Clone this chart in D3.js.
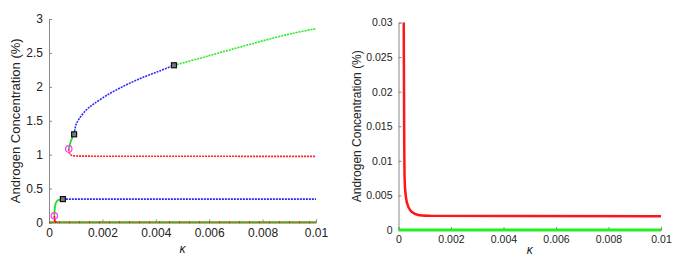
<!DOCTYPE html>
<html>
<head>
<meta charset="utf-8">
<script src="https://cdn.jsdelivr.net/npm/d3@7"></script>
<style>
  body { margin: 0; background: #fff; }
  svg text { font-family: "Liberation Sans", Arial, sans-serif; fill: #222; }
  .axis path, .axis line { stroke: #888; }
</style>
</head>
<body>
<div id="chart"></div>
<script>
// ---- data (kappa, androgen %) ----
const xTicks = [0, 0.002, 0.004, 0.006, 0.008, 0.01];
const leftYTicks = [0, 0.5, 1, 1.5, 2, 2.5, 3];
const rightYTicks = [0, 0.005, 0.01, 0.015, 0.02, 0.025, 0.03];

const baseline = [[0, 0.003], [0.01, 0.003]];
const lowRed = [[0.0002, 0.099], [0.00021, 0.05], [0.00023, 0.012], [0.00028, 0.004]];
const lowGreen = [[0.0002, 0.099], [0.00021, 0.18], [0.00023, 0.25], [0.00027, 0.3], [0.00035, 0.33], [0.00052, 0.345]];
const lowBlue = [[0.00052, 0.345], [0.01, 0.345]];
const upRed = [[0.00074, 1.085], [0.00076, 1.03], [0.0008, 1.0], [0.0009, 0.985], [0.0012, 0.978], [0.01, 0.975]];
const upGreen = [[0.00074, 1.085], [0.00078, 1.15], [0.00085, 1.23], [0.00094, 1.3]];
const upBlue = [[0.00094, 1.3], [0.00097, 1.37], [0.00102, 1.45], [0.00115, 1.54], [0.0014, 1.66], [0.00165, 1.74],
                [0.00227, 1.9], [0.0029, 2.03], [0.00352, 2.14], [0.00415, 2.235], [0.00468, 2.318]];
const topGreen = [[0.00468, 2.318], [0.00564, 2.42], [0.00664, 2.53], [0.00789, 2.666], [0.00914, 2.79], [0.01, 2.857]];
const circles = [[0.0002, 0.099], [0.00074, 1.085]];
const squares = [[0.00052, 0.345], [0.00094, 1.3], [0.00468, 2.318]];

const rightRed = [[0.0002, 0.03], [0.00021, 0.02], [0.00022, 0.012], [0.00023, 0.0077], [0.00028, 0.0048],
                  [0.00037, 0.0034], [0.0005, 0.00265], [0.00075, 0.00217], [0.0012, 0.00205], [0.01, 0.002]];
const rightGreen = [[0, 0], [0.01, 0]];

const svg = d3.select("#chart").append("svg")
    .attr("width", 676)
    .attr("height", 262);

function panel(o) {
    const x = d3.scaleLinear().domain([0, 0.01]).range(o.xr);
    const y = d3.scaleLinear().domain(o.yd).range(o.yr);
    const g = svg.append("g");

    g.append("g").attr("class", "axis")
        .attr("transform", `translate(0,${o.yr[0]})`)
        .call(d3.axisBottom(x).tickValues(xTicks).tickSize(-3).tickPadding(6).tickFormat(d => d === 0 ? "0" : d3.format("")(d)))
        .call(a => a.selectAll("text").style("font-size", o.fs + "px").attr("fill", "#222"));

    g.append("g").attr("class", "axis")
        .attr("transform", `translate(${o.xr[0]},0)`)
        .call(d3.axisLeft(y).tickValues(o.yTicks).tickSize(-3).tickPadding(6).tickFormat(d => d === 0 ? "0" : d3.format("")(d)))
        .call(a => a.selectAll("text").style("font-size", o.fs + "px").attr("fill", "#222"));

    g.selectAll(".axis path").attr("stroke", "#888");
    g.selectAll(".axis .tick line").attr("stroke", "#666");

    // x label
    g.append("text")
        .attr("x", (o.xr[0] + o.xr[1]) / 2)
        .attr("y", o.labY)
        .attr("text-anchor", "middle")
        .style("font-style", "italic")
        .style("font-size", "12px")
        .text("\u03BA");

    // y label
    g.append("text")
        .attr("transform", `translate(${o.ylX},${(o.yr[0] + o.yr[1]) / 2}) rotate(-90)`)
        .attr("text-anchor", "middle")
        .style("font-size", o.yfs + "px")
        .text("Androgen Concentration (%)");

    const line = d3.line().x(d => x(d[0])).y(d => y(d[1])).curve(d3.curveMonotoneY);
    const lineX = d3.line().x(d => x(d[0])).y(d => y(d[1])).curve(d3.curveMonotoneX);
    const lineC = d3.line().x(d => x(d[0])).y(d => y(d[1])).curve(d3.curveCatmullRom);
    return { g, x, y, line, lineX, lineC };
}

// ---- left panel ----
const L = panel({ xr: [49, 316], yr: [222.5, 19], yd: [0, 3], yTicks: leftYTicks, fs: 12, yfs: 13, labY: 253, ylX: 20 });

L.g.append("path").datum(baseline).attr("d", L.lineX).attr("fill", "none")
    .attr("stroke", "#6a9a20").attr("stroke-width", 2);
L.g.append("path").datum(baseline).attr("d", L.lineX).attr("fill", "none")
    .attr("stroke", "#d03010").attr("stroke-width", 2).attr("stroke-dasharray", "1,9");

const dotted = [
    [lowBlue, "#2a2aff", L.lineX],
    [upRed, "#ff2020", L.lineX],
    [upBlue, "#2a2aff", L.lineC],
    [topGreen, "#22ee22", L.lineC]
];
dotted.forEach(([d, c, gen]) => {
    L.g.append("path").datum(d).attr("d", gen).attr("fill", "none")
        .attr("stroke", c).attr("stroke-width", 1.6).attr("stroke-dasharray", "2,1");
});
L.g.append("path").datum(lowRed).attr("d", L.line).attr("fill", "none")
    .attr("stroke", "#ff1010").attr("stroke-width", 1.8);
[lowGreen, upGreen].forEach(d => {
    L.g.append("path").datum(d).attr("d", L.line).attr("fill", "none")
        .attr("stroke", "#22dd22").attr("stroke-width", 1.8);
});

L.g.selectAll(".circ").data(circles).enter().append("circle")
    .attr("cx", d => L.x(d[0])).attr("cy", d => L.y(d[1])).attr("r", 3.2)
    .attr("fill", "none").attr("stroke", "#ff33ff").attr("stroke-width", 1.2);
L.g.selectAll(".sq").data(squares).enter().append("rect")
    .attr("x", d => L.x(d[0]) - 2.5).attr("y", d => L.y(d[1]) - 2.5)
    .attr("width", 5).attr("height", 5)
    .attr("fill", "#778").attr("stroke", "#111").attr("stroke-width", 1.2);

// ---- right panel ----
const R = panel({ xr: [398.5, 661], yr: [230, 22.5], yd: [0, 0.03], yTicks: rightYTicks, fs: 10.5, yfs: 12, labY: 254, ylX: 361 });

R.g.append("path").datum(rightGreen).attr("d", R.lineX).attr("fill", "none")
    .attr("stroke", "#22ee22").attr("stroke-width", 3);
R.g.append("path").datum(rightRed).attr("d", R.line).attr("fill", "none")
    .attr("stroke", "#ff1515").attr("stroke-width", 2.5);
</script>
</body>
</html>
